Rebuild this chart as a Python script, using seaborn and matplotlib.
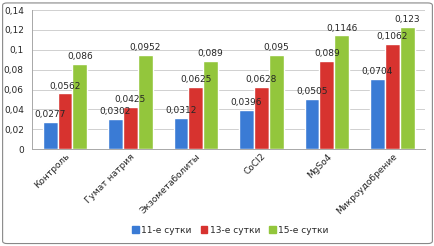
import pandas as pd
import numpy as np
import matplotlib
matplotlib.use('Agg')
import matplotlib.pyplot as plt
import seaborn as sns
from matplotlib.ticker import FuncFormatter, MultipleLocator, FixedLocator
from matplotlib.patches import FancyBboxPatch

categories = ['Контроль', 'Гумат натрия', 'Экзометаболиты', 'CoCl2', 'MgSo4', 'Микроудобрение']
series = ['11-е сутки', '13-е сутки', '15-е сутки']
day11 = [0.0277, 0.0302, 0.0312, 0.0396, 0.0505, 0.0704]
day13 = [0.0562, 0.0425, 0.0625, 0.0628, 0.089, 0.1062]
day15 = [0.086, 0.0952, 0.089, 0.095, 0.1146, 0.123]
labels11 = ['0,0277', '0,0302', '0,0312', '0,0396', '0,0505', '0,0704']
labels13 = ['0,0562', '0,0425', '0,0625', '0,0628', '0,089', '0,1062']
labels15 = ['0,086', '0,0952', '0,089', '0,095', '0,1146', '0,123']
colors = ['#3a7bd5', '#d7332f', '#93c63c']

df = pd.DataFrame({
    'cat': categories * 3,
    'series': [s for s in series for _ in categories],
    'value': day11 + day13 + day15,
})

sns.set_style('white')
plt.rcParams['font.family'] = ['DejaVu Sans']

fig = plt.figure(figsize=(4.35, 2.46), dpi=100)
ax = fig.add_axes([0.074, 0.394, 0.903, 0.565])

sns.barplot(data=df, x='cat', y='value', hue='series', palette=colors,
            width=0.68, saturation=1, ax=ax, legend=False)

ax.set_ylim(0, 0.14)
ax.yaxis.set_major_locator(MultipleLocator(0.02))
ax.yaxis.set_major_formatter(FuncFormatter(lambda v, p: ('%g' % round(v, 2)).replace('.', ',')))
ax.grid(axis='y', color='#d0d0d0', linewidth=0.7)
ax.set_axisbelow(True)
for s in ['top', 'right']:
    ax.spines[s].set_visible(False)
for s in ['bottom', 'left']:
    ax.spines[s].set_color('#a8a8a8')
    ax.spines[s].set_linewidth(0.7)
ax.set_xlabel('')
ax.set_ylabel('')
ax.tick_params(axis='y', labelsize=6.5, length=3, color='#a8a8a8', pad=3)
ax.tick_params(axis='x', labelsize=6.5, length=0, pad=2)
ax.xaxis.set_minor_locator(FixedLocator(np.arange(-0.5, len(categories), 1.0)))
ax.tick_params(axis='x', which='minor', length=3, color='#a8a8a8')
plt.setp(ax.get_xticklabels(), rotation=45, ha='right', rotation_mode='anchor')

for cont, labs in zip(ax.containers, [labels11, labels13, labels15]):
    ax.bar_label(cont, labels=labs, fontsize=6.5, padding=2)

handles = [plt.Rectangle((0, 0), 1, 1, color=c) for c in colors]
fig.legend(handles, series, loc='center', bbox_to_anchor=(0.53, 0.065), ncol=3,
           frameon=False, fontsize=6.5, handlelength=0.7, handleheight=0.7,
           handletextpad=0.3, columnspacing=1.0)

fig.patches.append(FancyBboxPatch((0.006, 0.01), 0.988, 0.978, boxstyle='round,pad=0,rounding_size=0.01',
                                  transform=fig.transFigure, fill=False,
                                  edgecolor='#888888', linewidth=0.8))

fig.savefig('out.png', dpi=100)
